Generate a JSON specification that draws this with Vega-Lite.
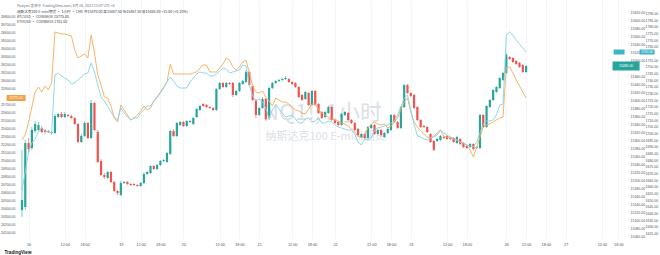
{
"$schema": "https://vega.github.io/schema/vega-lite/v6.json",
"width": 609, "height": 238,
"autosize": {"type": "none"},
"padding": {"left": 16, "top": 0, "right": 35, "bottom": 17},
"background": "white",
"config": {"view": {"stroke": null}, "axis": {"labelFont": "Liberation Sans", "labelColor": "#50535e", "ticks": false, "domain": false, "grid": false, "labelOverlap": false, "labelFlush": false, "labelBound": false}},
"title": {"text": "Pasiyan 发布于 TradingView.com, 6月 26, 2023 13:47 UTC+8", "subtitle": ["纳斯达克100 E-mini期货 · 1小时 · CME   开15470.00 高15487.50 低15467.50 收15485.00 +15.00 (+0.10%)", "BTCUSD · COINBASE   25775.00", "ETHUSD · COINBASE   1761.00"], "anchor": "start", "frame": "group", "orient": "top", "offset": -24, "dx": 1, "font": "Noto Sans CJK SC", "fontSize": 3.6, "fontWeight": "normal", "color": "#6b6f7a", "subtitleFont": "Noto Sans CJK SC", "subtitleFontSize": 3.6, "subtitleColor": "#3a3e4a", "subtitlePadding": 2.5, "subtitleLineHeight": 5},
"datasets": {
"levels": [{"level": 15535}, {"level": 15105}],
"bars": [
{"i":0,"o":15125,"h":15275,"l":15107.5,"c":15150,"btc":25250,"eth":1657.5},
{"i":1,"o":15132.5,"h":15300,"l":15125,"c":15292.5,"btc":25312.5,"eth":1671},
{"i":2,"o":15292.5,"h":15305,"l":15270,"c":15277.5,"btc":25475,"eth":1686},
{"i":3,"o":15280,"h":15332.5,"l":15275,"c":15325,"btc":25662.5,"eth":1692.75},
{"i":4,"o":15322.5,"h":15347.5,"l":15317.5,"c":15340,"btc":25850,"eth":1695.75},
{"i":5,"o":15325,"h":15345,"l":15322.5,"c":15337.5,"btc":25912.5,"eth":1701},
{"i":6,"o":15330,"h":15335,"l":15317.5,"c":15320,"btc":25850,"eth":1704},
{"i":7,"o":15325,"h":15327.5,"l":15315,"c":15320,"btc":25925,"eth":1701.75},
{"i":8,"o":15322.5,"h":15325,"l":15317.5,"c":15320,"btc":25875,"eth":1701},
{"i":9,"o":15317.5,"h":15322.5,"l":15312.5,"c":15320,"btc":25962.5,"eth":1700.25},
{"i":10,"o":15317.5,"h":15365,"l":15315,"c":15360,"btc":26600,"eth":1743.75},
{"i":11,"o":15357.5,"h":15367.5,"l":15355,"c":15365,"btc":26587.5,"eth":1745.25},
{"i":12,"o":15365,"h":15370,"l":15355,"c":15357.5,"btc":26575,"eth":1743},
{"i":13,"o":15357.5,"h":15370,"l":15355,"c":15365,"btc":26575,"eth":1741.5},
{"i":14,"o":15362.5,"h":15365,"l":15357.5,"c":15360,"btc":26562.5,"eth":1740},
{"i":15,"o":15360,"h":15362.5,"l":15352.5,"c":15355,"btc":26550,"eth":1737},
{"i":16,"o":15355,"h":15357.5,"l":15337.5,"c":15340,"btc":26375,"eth":1737.75},
{"i":17,"o":15340,"h":15342.5,"l":15292.5,"c":15295,"btc":26275,"eth":1740},
{"i":18,"o":15295,"h":15315,"l":15292.5,"c":15310,"btc":26300,"eth":1742.25},
{"i":19,"o":15310,"h":15347.5,"l":15307.5,"c":15342.5,"btc":26325,"eth":1744.5},
{"i":20,"o":15342.5,"h":15345,"l":15302.5,"c":15305,"btc":26275,"eth":1745.25},
{"i":21,"o":15305,"h":15400,"l":15302.5,"c":15392.5,"btc":26562.5,"eth":1752.75},
{"i":22,"o":15392.5,"h":15395,"l":15322.5,"c":15325,"btc":26337.5,"eth":1746},
{"i":23,"o":15320,"h":15325,"l":15242.5,"c":15245,"btc":26062.5,"eth":1736.25},
{"i":24,"o":15247.5,"h":15252.5,"l":15210,"c":15212.5,"btc":25937.5,"eth":1727.25},
{"i":25,"o":15212.5,"h":15217.5,"l":15202.5,"c":15207.5,"btc":25787.5,"eth":1724.25},
{"i":26,"o":15205,"h":15222.5,"l":15202.5,"c":15220,"btc":25775,"eth":1720.5},
{"i":27,"o":15220,"h":15222.5,"l":15192.5,"c":15195,"btc":25675,"eth":1716},
{"i":28,"o":15195,"h":15197.5,"l":15170,"c":15172.5,"btc":25525,"eth":1712.25},
{"i":29,"o":15172.5,"h":15175,"l":15162.5,"c":15167.5,"btc":25475,"eth":1710},
{"i":30,"o":15162.5,"h":15197.5,"l":15160,"c":15192.5,"btc":25687.5,"eth":1719},
{"i":31,"o":15192.5,"h":15197.5,"l":15190,"c":15195,"btc":25625,"eth":1715.25},
{"i":32,"o":15195,"h":15197.5,"l":15187.5,"c":15190,"btc":25562.5,"eth":1712.25},
{"i":33,"o":15190,"h":15192.5,"l":15185,"c":15187.5,"btc":25500,"eth":1710},
{"i":34,"o":15190,"h":15192.5,"l":15185,"c":15187.5,"btc":25525,"eth":1711.5},
{"i":35,"o":15187.5,"h":15190,"l":15182.5,"c":15185,"btc":25562.5,"eth":1711.5},
{"i":36,"o":15185,"h":15195,"l":15182.5,"c":15192.5,"btc":25612.5,"eth":1715.25},
{"i":37,"o":15192.5,"h":15220,"l":15190,"c":15215,"btc":25675,"eth":1717.5},
{"i":38,"o":15215,"h":15222.5,"l":15212.5,"c":15220,"btc":25625,"eth":1720.5},
{"i":39,"o":15217.5,"h":15237.5,"l":15215,"c":15235,"btc":25650,"eth":1720.5},
{"i":40,"o":15235,"h":15237.5,"l":15225,"c":15227.5,"btc":25737.5,"eth":1724.25},
{"i":41,"o":15227.5,"h":15240,"l":15225,"c":15237.5,"btc":25787.5,"eth":1726.5},
{"i":42,"o":15237.5,"h":15250,"l":15235,"c":15247.5,"btc":25850,"eth":1730.25},
{"i":43,"o":15247.5,"h":15252.5,"l":15245,"c":15250,"btc":25912.5,"eth":1734},
{"i":44,"o":15245,"h":15270,"l":15242.5,"c":15267.5,"btc":25975,"eth":1738.5},
{"i":45,"o":15265,"h":15325,"l":15262.5,"c":15322.5,"btc":26200,"eth":1742.25},
{"i":46,"o":15322.5,"h":15327.5,"l":15307.5,"c":15310,"btc":26075,"eth":1739.25},
{"i":47,"o":15310,"h":15345,"l":15307.5,"c":15342.5,"btc":26075,"eth":1735.5},
{"i":48,"o":15337.5,"h":15347.5,"l":15335,"c":15345,"btc":26075,"eth":1734},
{"i":49,"o":15345,"h":15347.5,"l":15332.5,"c":15335,"btc":26075,"eth":1734},
{"i":50,"o":15335,"h":15350,"l":15332.5,"c":15347.5,"btc":26075,"eth":1734},
{"i":51,"o":15345,"h":15350,"l":15342.5,"c":15347.5,"btc":26075,"eth":1738.5},
{"i":52,"o":15340,"h":15357.5,"l":15337.5,"c":15355,"btc":26087.5,"eth":1741.5},
{"i":53,"o":15357.5,"h":15380,"l":15355,"c":15377.5,"btc":26100,"eth":1744.5},
{"i":54,"o":15375,"h":15387.5,"l":15372.5,"c":15385,"btc":26150,"eth":1746},
{"i":55,"o":15390,"h":15392.5,"l":15382.5,"c":15385,"btc":26187.5,"eth":1745.25},
{"i":56,"o":15387.5,"h":15390,"l":15380,"c":15382.5,"btc":26187.5,"eth":1745.25},
{"i":57,"o":15382.5,"h":15385,"l":15377.5,"c":15380,"btc":26100,"eth":1743},
{"i":58,"o":15380,"h":15382.5,"l":15372.5,"c":15375,"btc":26100,"eth":1743},
{"i":59,"o":15375,"h":15430,"l":15372.5,"c":15427.5,"btc":26100,"eth":1744.5},
{"i":60,"o":15427.5,"h":15445,"l":15425,"c":15442.5,"btc":26150,"eth":1746.75},
{"i":61,"o":15442.5,"h":15445,"l":15430,"c":15432.5,"btc":26200,"eth":1749},
{"i":62,"o":15432.5,"h":15445,"l":15430,"c":15442.5,"btc":26275,"eth":1748.25},
{"i":63,"o":15442.5,"h":15445,"l":15437.5,"c":15440,"btc":26250,"eth":1745.25},
{"i":64,"o":15442.5,"h":15445,"l":15407.5,"c":15412.5,"btc":26162.5,"eth":1746},
{"i":65,"o":15412.5,"h":15425,"l":15410,"c":15422.5,"btc":26125,"eth":1746.75},
{"i":66,"o":15422.5,"h":15445,"l":15420,"c":15442.5,"btc":26162.5,"eth":1747.5},
{"i":67,"o":15440,"h":15450,"l":15437.5,"c":15447.5,"btc":26225,"eth":1751.25},
{"i":68,"o":15445,"h":15475,"l":15442.5,"c":15470,"btc":26250,"eth":1750.5},
{"i":69,"o":15470,"h":15472.5,"l":15435,"c":15437.5,"btc":26087.5,"eth":1736.25},
{"i":70,"o":15435,"h":15437.5,"l":15397.5,"c":15400,"btc":25925,"eth":1728},
{"i":71,"o":15400,"h":15402.5,"l":15355,"c":15362.5,"btc":25850,"eth":1724.25},
{"i":72,"o":15362.5,"h":15382.5,"l":15360,"c":15380,"btc":25837.5,"eth":1725.75},
{"i":73,"o":15380,"h":15407.5,"l":15377.5,"c":15402.5,"btc":25862.5,"eth":1723.5},
{"i":74,"o":15402.5,"h":15405,"l":15347.5,"c":15352.5,"btc":25787.5,"eth":1719},
{"i":75,"o":15355,"h":15432.5,"l":15350,"c":15430,"btc":25737.5,"eth":1710.75},
{"i":76,"o":15430,"h":15445,"l":15427.5,"c":15442.5,"btc":25675,"eth":1717.5},
{"i":77,"o":15442.5,"h":15450,"l":15440,"c":15447.5,"btc":25775,"eth":1721.25},
{"i":78,"o":15447.5,"h":15452.5,"l":15445,"c":15450,"btc":25750,"eth":1718.25},
{"i":79,"o":15450,"h":15455,"l":15447.5,"c":15452.5,"btc":25725,"eth":1715.25},
{"i":80,"o":15452.5,"h":15460,"l":15450,"c":15455,"btc":25725,"eth":1712.25},
{"i":81,"o":15452.5,"h":15455,"l":15442.5,"c":15445,"btc":25700,"eth":1713},
{"i":82,"o":15445,"h":15447.5,"l":15437.5,"c":15440,"btc":25662.5,"eth":1713.75},
{"i":83,"o":15442.5,"h":15445,"l":15430,"c":15432.5,"btc":25625,"eth":1710.75},
{"i":84,"o":15432.5,"h":15435,"l":15405,"c":15407.5,"btc":25612.5,"eth":1707.75},
{"i":85,"o":15412.5,"h":15415,"l":15397.5,"c":15400,"btc":25587.5,"eth":1707.75},
{"i":86,"o":15402.5,"h":15422.5,"l":15400,"c":15420,"btc":25575,"eth":1710.75},
{"i":87,"o":15417.5,"h":15420,"l":15385,"c":15387.5,"btc":25637.5,"eth":1711.5},
{"i":88,"o":15387.5,"h":15425,"l":15385,"c":15422.5,"btc":25700,"eth":1708.5},
{"i":89,"o":15422.5,"h":15425,"l":15385,"c":15387.5,"btc":25700,"eth":1709.25},
{"i":90,"o":15390,"h":15392.5,"l":15365,"c":15367.5,"btc":25625,"eth":1711.5},
{"i":91,"o":15370,"h":15372.5,"l":15352.5,"c":15355,"btc":25587.5,"eth":1707.75},
{"i":92,"o":15357.5,"h":15372.5,"l":15355,"c":15370,"btc":25562.5,"eth":1707.75},
{"i":93,"o":15367.5,"h":15385,"l":15365,"c":15382.5,"btc":25537.5,"eth":1709.25},
{"i":94,"o":15382.5,"h":15385,"l":15347.5,"c":15350,"btc":25512.5,"eth":1708.5},
{"i":95,"o":15350,"h":15352.5,"l":15340,"c":15342.5,"btc":25500,"eth":1706.25},
{"i":96,"o":15345,"h":15347.5,"l":15335,"c":15337.5,"btc":25487.5,"eth":1704.75},
{"i":97,"o":15337.5,"h":15367.5,"l":15335,"c":15365,"btc":25462.5,"eth":1704},
{"i":98,"o":15362.5,"h":15372.5,"l":15360,"c":15370,"btc":25450,"eth":1703.25},
{"i":99,"o":15367.5,"h":15370,"l":15347.5,"c":15350,"btc":25425,"eth":1702.5},
{"i":100,"o":15350,"h":15352.5,"l":15340,"c":15342.5,"btc":25387.5,"eth":1702.5},
{"i":101,"o":15342.5,"h":15345,"l":15322.5,"c":15325,"btc":25350,"eth":1699.5},
{"i":102,"o":15327.5,"h":15330,"l":15307.5,"c":15312.5,"btc":25300,"eth":1693.5},
{"i":103,"o":15307.5,"h":15317.5,"l":15305,"c":15315,"btc":25275,"eth":1691.25},
{"i":104,"o":15315,"h":15317.5,"l":15302.5,"c":15305,"btc":25312.5,"eth":1695.75},
{"i":105,"o":15305,"h":15335,"l":15302.5,"c":15332.5,"btc":25400,"eth":1695},
{"i":106,"o":15330,"h":15340,"l":15327.5,"c":15337.5,"btc":25450,"eth":1696.5},
{"i":107,"o":15337.5,"h":15340,"l":15312.5,"c":15315,"btc":25475,"eth":1702.5},
{"i":108,"o":15315,"h":15327.5,"l":15312.5,"c":15325,"btc":25450,"eth":1704},
{"i":109,"o":15325,"h":15327.5,"l":15307.5,"c":15312.5,"btc":25437.5,"eth":1704.75},
{"i":110,"o":15307.5,"h":15320,"l":15305,"c":15317.5,"btc":25450,"eth":1705.5},
{"i":111,"o":15317.5,"h":15330,"l":15315,"c":15327.5,"btc":25400,"eth":1706.25},
{"i":112,"o":15325,"h":15365,"l":15322.5,"c":15362.5,"btc":25425,"eth":1707.75},
{"i":113,"o":15362.5,"h":15365,"l":15342.5,"c":15345,"btc":25475,"eth":1709.25},
{"i":114,"o":15345,"h":15347.5,"l":15327.5,"c":15330,"btc":25525,"eth":1713.75},
{"i":115,"o":15330,"h":15385,"l":15327.5,"c":15382.5,"btc":25625,"eth":1719.75},
{"i":116,"o":15382.5,"h":15440,"l":15380,"c":15437.5,"btc":25725,"eth":1726.5},
{"i":117,"o":15437.5,"h":15440,"l":15415,"c":15417.5,"btc":25775,"eth":1728.75},
{"i":118,"o":15417.5,"h":15420,"l":15407.5,"c":15410,"btc":25600,"eth":1717.5},
{"i":119,"o":15412.5,"h":15415,"l":15377.5,"c":15380,"btc":25475,"eth":1707},
{"i":120,"o":15382.5,"h":15385,"l":15347.5,"c":15350,"btc":25412.5,"eth":1698},
{"i":121,"o":15350,"h":15352.5,"l":15330,"c":15332.5,"btc":25362.5,"eth":1697.25},
{"i":122,"o":15335,"h":15337.5,"l":15330,"c":15332.5,"btc":25325,"eth":1695.75},
{"i":123,"o":15332.5,"h":15335,"l":15317.5,"c":15320,"btc":25287.5,"eth":1695},
{"i":124,"o":15315,"h":15317.5,"l":15292.5,"c":15295,"btc":25275,"eth":1696.5},
{"i":125,"o":15297.5,"h":15300,"l":15272.5,"c":15275,"btc":25300,"eth":1697.25},
{"i":126,"o":15297.5,"h":15305,"l":15295,"c":15302.5,"btc":25337.5,"eth":1698.75},
{"i":127,"o":15300,"h":15312.5,"l":15297.5,"c":15310,"btc":25375,"eth":1702.5},
{"i":128,"o":15307.5,"h":15310,"l":15302.5,"c":15305,"btc":25300,"eth":1700.25},
{"i":129,"o":15310,"h":15312.5,"l":15300,"c":15302.5,"btc":25287.5,"eth":1698.75},
{"i":130,"o":15305,"h":15307.5,"l":15300,"c":15302.5,"btc":25275,"eth":1697.25},
{"i":131,"o":15305,"h":15307.5,"l":15292.5,"c":15295,"btc":25262.5,"eth":1696.5},
{"i":132,"o":15292.5,"h":15310,"l":15290,"c":15307.5,"btc":25250,"eth":1695},
{"i":133,"o":15302.5,"h":15305,"l":15287.5,"c":15290,"btc":25225,"eth":1693.5},
{"i":134,"o":15292.5,"h":15295,"l":15280,"c":15282.5,"btc":25212.5,"eth":1692.75},
{"i":135,"o":15285,"h":15287.5,"l":15277.5,"c":15280,"btc":25187.5,"eth":1691.25},
{"i":136,"o":15282.5,"h":15292.5,"l":15280,"c":15290,"btc":25125,"eth":1690.5},
{"i":137,"o":15290,"h":15292.5,"l":15275,"c":15277.5,"btc":25037.5,"eth":1689.75},
{"i":138,"o":15280,"h":15285,"l":15277.5,"c":15282.5,"btc":25162.5,"eth":1693.5},
{"i":139,"o":15280,"h":15365,"l":15277.5,"c":15362.5,"btc":25287.5,"eth":1700.25},
{"i":140,"o":15362.5,"h":15365,"l":15330,"c":15332.5,"btc":25412.5,"eth":1707},
{"i":141,"o":15332.5,"h":15387.5,"l":15330,"c":15385,"btc":25437.5,"eth":1709.25},
{"i":142,"o":15382.5,"h":15402.5,"l":15380,"c":15400,"btc":25450,"eth":1709.25},
{"i":143,"o":15400,"h":15427.5,"l":15397.5,"c":15425,"btc":25475,"eth":1710},
{"i":144,"o":15420,"h":15435,"l":15417.5,"c":15432.5,"btc":25500,"eth":1713.75},
{"i":145,"o":15430,"h":15457.5,"l":15427.5,"c":15455,"btc":25525,"eth":1721.25},
{"i":146,"o":15450,"h":15470,"l":15447.5,"c":15467.5,"btc":25535,"eth":1722},
{"i":147,"o":15467.5,"h":15517.5,"l":15465,"c":15512.5,"btc":26162.5,"eth":1773.75},
{"i":148,"o":15507.5,"h":15510,"l":15500,"c":15502.5,"btc":26162.5,"eth":1776},
{"i":149,"o":15505,"h":15507.5,"l":15492.5,"c":15495,"btc":26087.5,"eth":1773.75},
{"i":150,"o":15497.5,"h":15500,"l":15487.5,"c":15490,"btc":26000,"eth":1770},
{"i":151,"o":15492.5,"h":15495,"l":15480,"c":15482.5,"btc":25925,"eth":1767},
{"i":152,"o":15487.5,"h":15490,"l":15467.5,"c":15470,"btc":25850,"eth":1764},
{"i":153,"o":15470,"h":15487.5,"l":15467.5,"c":15485,"btc":25775,"eth":1761}
]},
"data": {"name": "bars"},
"encoding": {"x": {"field": "i", "type": "quantitative", "scale": {"domain": [-0.3, 181.5], "nice": false, "zero": false},
  "axis": {"labelOverlap": false, "labelBound": false, "values": [2,13,19,30,36,42,49,60,66,72,82,88,95,106,112,118,129,135,147,153,159,165,176,181], "labelExpr": "['16','12:00','18:00','19','12:00','18:00','20','12:00','18:00','21','12:00','18:00','22','12:00','18:00','23','12:00','18:00','26','12:00','18:00','27','12:00','18:00'][indexof([2,13,19,30,36,42,49,60,66,72,82,88,95,106,112,118,129,135,147,153,159,165,176,181], datum.value)]", "labelFontSize": 3.8, "labelPadding": 4, "grid": true, "gridColor": "#eef0f4", "gridWidth": 0.7, "title": "TradingView", "titleX": -12, "titleY": 14, "titleAlign": "left", "titleBaseline": "middle", "titleFontSize": 4.6, "titleFontWeight": "bold", "titleColor": "#131722", "titleFont": "Liberation Sans"}}},
"layer": [
{"layer": [
 {"data": {"name": "levels"}, "mark": {"type": "rule", "color": "#e1e4ea", "strokeWidth": 0.8},
  "encoding": {
   "x": {"datum": -0.3, "type": "quantitative", "axis": {"labelOverlap": false, "labelBound": false, "values": [2,13,19,30,36,42,49,60,66,72,82,88,95,106,112,118,129,135,147,153,159,165,176,181], "labelExpr": "['16','12:00','18:00','19','12:00','18:00','20','12:00','18:00','21','12:00','18:00','22','12:00','18:00','23','12:00','18:00','26','12:00','18:00','27','12:00','18:00'][indexof([2,13,19,30,36,42,49,60,66,72,82,88,95,106,112,118,129,135,147,153,159,165,176,181], datum.value)]", "labelFontSize": 3.8, "labelPadding": 4, "grid": true, "gridColor": "#eef0f4", "gridWidth": 0.7, "title": "TradingView", "titleX": -12, "titleY": 14, "titleAlign": "left", "titleBaseline": "middle", "titleFontSize": 4.6, "titleFontWeight": "bold", "titleColor": "#131722", "titleFont": "Liberation Sans"}},
   "x2": {"datum": 181.5},
   "y": {"field": "level", "type": "quantitative", "scale": {"domain": [15055, 15650], "nice": false, "zero": false},
   "axis": {"orient": "right", "labelOverlap": false, "labelBound": false, "values": [15060,15080,15100,15120,15140,15160,15180,15200,15220,15240,15260,15280,15300,15320,15340,15360,15380,15400,15420,15440,15460,15500,15520,15540,15560,15580,15600,15620], "format": ".2f", "labelFontSize": 3.5, "labelPadding": 5, "title": "纳斯达克100 E-mini期货", "titleX": -300, "titleY": 136, "titleAngle": 0, "titleAlign": "center", "titleBaseline": "middle", "titleFontSize": 11, "titleFont": "Noto Sans CJK SC", "titleFontWeight": "normal", "titleColor": "#dcdfe6"}}}},
 {"mark": {"type": "rule", "strokeWidth": 0.6},
  "encoding": {
   "y": {"field": "l", "type": "quantitative", "scale": {"domain": [15055, 15650], "nice": false, "zero": false},
   "axis": {"orient": "right", "labelOverlap": false, "labelBound": false, "values": [15060,15080,15100,15120,15140,15160,15180,15200,15220,15240,15260,15280,15300,15320,15340,15360,15380,15400,15420,15440,15460,15500,15520,15540,15560,15580,15600,15620], "format": ".2f", "labelFontSize": 3.5, "labelPadding": 5, "title": "纳斯达克100 E-mini期货", "titleX": -300, "titleY": 136, "titleAngle": 0, "titleAlign": "center", "titleBaseline": "middle", "titleFontSize": 11, "titleFont": "Noto Sans CJK SC", "titleFontWeight": "normal", "titleColor": "#dcdfe6"}},
   "y2": {"field": "h"},
   "color": {"condition": {"test": "datum.c < datum.o", "value": "#ef5350"}, "value": "#26a69a"}}},
 {"mark": {"type": "bar", "width": 2.2},
  "encoding": {
   "y": {"field": "o", "type": "quantitative", "scale": {"domain": [15055, 15650], "nice": false, "zero": false},
   "axis": {"orient": "right", "labelOverlap": false, "labelBound": false, "values": [15060,15080,15100,15120,15140,15160,15180,15200,15220,15240,15260,15280,15300,15320,15340,15360,15380,15400,15420,15440,15460,15500,15520,15540,15560,15580,15600,15620], "format": ".2f", "labelFontSize": 3.5, "labelPadding": 5, "title": "纳斯达克100 E-mini期货", "titleX": -300, "titleY": 136, "titleAngle": 0, "titleAlign": "center", "titleBaseline": "middle", "titleFontSize": 11, "titleFont": "Noto Sans CJK SC", "titleFontWeight": "normal", "titleColor": "#dcdfe6"}},
   "y2": {"field": "c"},
   "color": {"condition": {"test": "datum.c < datum.o", "value": "#ef5350"}, "value": "#26a69a"}}},
 {"transform": [{"filter": "datum.i == 153"}],
  "encoding": {
   "y": {"field": "c", "type": "quantitative", "scale": {"domain": [15055, 15650], "nice": false, "zero": false},
   "axis": {"orient": "right", "labelOverlap": false, "labelBound": false, "values": [15060,15080,15100,15120,15140,15160,15180,15200,15220,15240,15260,15280,15300,15320,15340,15360,15380,15400,15420,15440,15460,15500,15520,15540,15560,15580,15600,15620], "format": ".2f", "labelFontSize": 3.5, "labelPadding": 5, "title": "纳斯达克100 E-mini期货", "titleX": -300, "titleY": 136, "titleAngle": 0, "titleAlign": "center", "titleBaseline": "middle", "titleFontSize": 11, "titleFont": "Noto Sans CJK SC", "titleFontWeight": "normal", "titleColor": "#dcdfe6"}}},
  "layer": [
   {"mark": {"type": "tick", "orient": "horizontal", "size": 27, "thickness": 9, "color": "#26a69a", "opacity": 1, "xOffset": 100}},
   {"mark": {"type": "text", "color": "white", "fontSize": 3.4, "font": "Liberation Sans", "align": "center", "baseline": "middle", "xOffset": 100}, "encoding": {"text": {"field": "c", "format": ".2f"}}}
  ]}
]},
{"encoding": {"y": {"field": "btc", "type": "quantitative", "scale": {"domain": [24025, 27000], "nice": false, "zero": false},
    "axis": {"orient": "left", "labelOverlap": false, "labelBound": false, "values": [24100,24200,24300,24400,24500,24600,24700,24800,24900,25000,25100,25200,25300,25400,25500,25600,25700,25900,26000,26100,26200,26300,26400,26500,26600,26700,26800], "format": ".2f", "labelFontSize": 3.5, "labelPadding": 1, "title": "NQ1!, 1小时", "titleX": 306, "titleY": 112, "titleAngle": 0, "titleAlign": "center", "titleBaseline": "middle", "titleFontSize": 22, "titleFont": "Noto Sans CJK SC", "titleFontWeight": "normal", "titleColor": "#dcdfe6"}}},
 "layer": [
 {"mark": {"type": "line", "color": "#f6ab58", "strokeWidth": 0.9}},
 {"transform": [{"filter": "datum.i == 153"}],
  "mark": {"type": "tick", "orient": "horizontal", "size": 19, "thickness": 6, "color": "#f5a043", "opacity": 1, "xOffset": -510}},
 {"transform": [{"filter": "datum.i == 153"}],
  "mark": {"type": "text", "color": "white", "fontSize": 3.2, "font": "Liberation Sans", "align": "center", "baseline": "middle", "xOffset": -510},
  "encoding": {"text": {"field": "btc", "format": ".2f"}}}
]},
{"encoding": {"y": {"field": "eth", "type": "quantitative", "scale": {"domain": [1621.5, 1800], "nice": false, "zero": false},
    "axis": {"orient": "right", "offset": 18, "labelOverlap": false, "labelBound": false, "values": [1625,1630,1635,1640,1645,1650,1655,1660,1665,1670,1675,1680,1685,1690,1695,1700,1705,1710,1715,1720,1725,1730,1735,1740,1745,1750,1755,1765,1770,1775,1780,1785,1790], "format": ".2f", "labelFontSize": 3.5, "labelPadding": 2, "title": null}}},
 "layer": [
 {"mark": {"type": "line", "color": "#84d1e8", "strokeWidth": 0.9}},
 {"transform": [{"filter": "datum.i == 153"}],
  "mark": {"type": "tick", "orient": "horizontal", "size": 11, "thickness": 5, "color": "#3db5c8", "opacity": 1, "xOffset": 93}},
 {"transform": [{"filter": "datum.i == 153"}],
  "mark": {"type": "tick", "orient": "horizontal", "size": 15, "thickness": 5, "color": "#3db5c8", "opacity": 1, "xOffset": 121}},
 {"transform": [{"filter": "datum.i == 153"}],
  "mark": {"type": "text", "color": "white", "fontSize": 3.2, "font": "Liberation Sans", "align": "center", "baseline": "middle", "xOffset": 121},
  "encoding": {"text": {"field": "eth", "format": ".2f"}}}
]}
],
"resolve": {"scale": {"y": "independent"}, "axis": {"y": "independent"}}
}
